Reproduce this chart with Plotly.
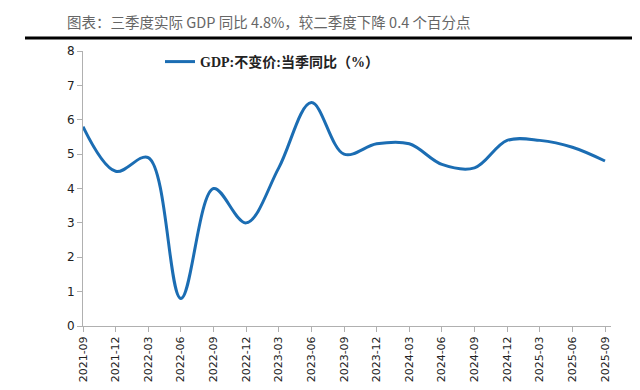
import plotly.graph_objects as go

quarters = ["2021-09", "2021-12", "2022-03", "2022-06", "2022-09", "2022-12",
            "2023-03", "2023-06", "2023-09", "2023-12", "2024-03", "2024-06",
            "2024-09", "2024-12", "2025-03", "2025-06", "2025-09"]
gdp_yoy = [5.8, 4.5, 4.9, 0.8, 4.0, 3.0, 4.6, 6.5, 5.0, 5.3, 5.3, 4.7,
           4.6, 5.4, 5.4, 5.2, 4.8]
y_ticks = [0, 1, 2, 3, 4, 5, 6, 7, 8]

# page body has an 8px margin; work in window pixels and subtract it
OFF = 8
W, H = 640 - OFF, 390 - OFF
L = 83 - OFF
T = 51 - OFF
B = 390 - 326
R = 640 - 611
pw = W - L - R
ph = H - T - B
step = (605 - 83) / 16

def px_x(px):
    return (px - OFF - L) / pw

def px_y(py):
    return (H - B - (py - OFF)) / ph

fig = go.Figure()
fig.add_trace(go.Scatter(
    x=list(range(len(quarters))), y=gdp_yoy, mode="lines",
    line=dict(color="#1b6db3", width=3, shape="spline", smoothing=1.0),
    name="<b>GDP:不变价:当季同比（%）</b>",
))

fig.update_layout(
    width=W, height=H,
    margin=dict(l=L, r=R, t=T, b=B, autoexpand=False),
    paper_bgcolor="white", plot_bgcolor="white",
    showlegend=True,
    legend=dict(orientation="h", x=px_x(272), y=px_y(62), xanchor="center",
                yanchor="middle", bgcolor="rgba(0,0,0,0)",
                font=dict(family="Liberation Serif, Noto Sans CJK SC", size=14, color="#222"),
                itemwidth=30),
    xaxis=dict(
        range=[0, pw / step], tickmode="array",
        tickvals=list(range(len(quarters))), ticktext=quarters,
        tickangle=-90, showline=True, linecolor="#b0b0b0", linewidth=1,
        ticks="outside", ticklen=5, tickcolor="#b0b0b0", showgrid=False,
        zeroline=False,
        tickfont=dict(family="DejaVu Sans", size=11, color="#222"),
    ),
    yaxis=dict(
        range=[0, 8], tickmode="array", tickvals=y_ticks,
        showline=True, linecolor="#b0b0b0", linewidth=1,
        ticks="outside", ticklen=5, tickcolor="#b0b0b0", showgrid=False,
        zeroline=False,
        tickfont=dict(family="DejaVu Sans", size=12, color="#222"),
    ),
    shapes=[dict(type="line", xref="paper", yref="paper",
                 x0=px_x(25), x1=px_x(640), y0=px_y(38), y1=px_y(38),
                 line=dict(color="black", width=3))],
    annotations=[dict(text="图表：三季度实际 GDP 同比 4.8%，较二季度下降 0.4 个百分点",
                      xref="paper", yref="paper", x=px_x(269), y=px_y(22),
                      xanchor="center", yanchor="middle", showarrow=False,
                      font=dict(family="Noto Sans CJK SC", size=14.5, color="#666"))],
)

fig.write_html("out.html")
